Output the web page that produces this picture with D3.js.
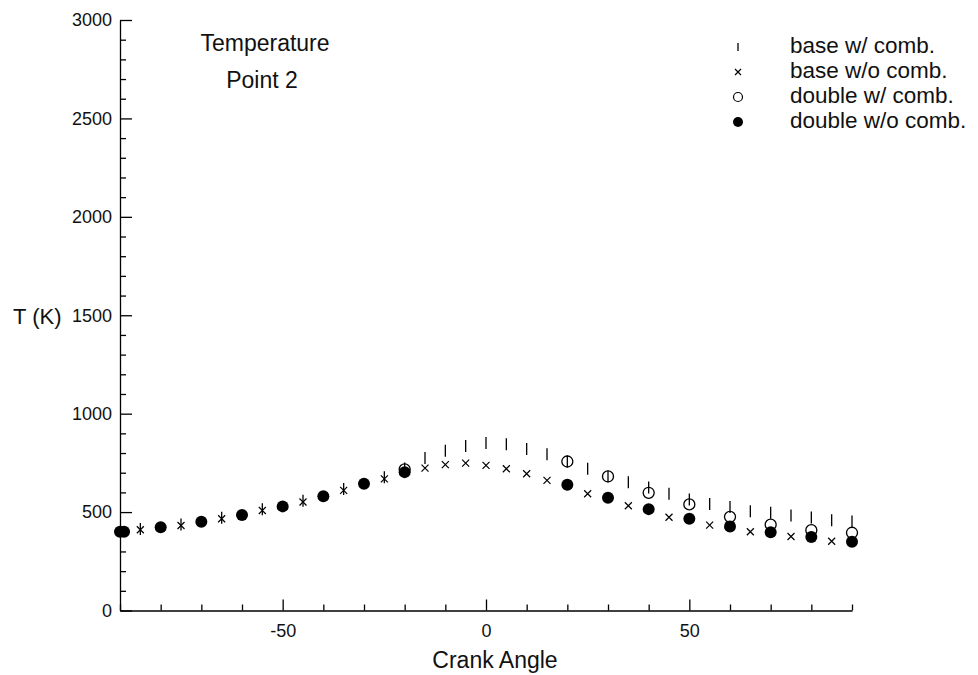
<!DOCTYPE html>
<html>
<head>
<meta charset="utf-8">
<script src="https://cdn.jsdelivr.net/npm/d3@7"></script>
<style>
  body { margin: 0; background: #fff; }
  text { font-family: "Liberation Sans", Arial, sans-serif; fill: #111; }
</style>
</head>
<body>
<div id="chart"></div>
<script>
// data (crank angle in deg, T in K)
var baseWithAngle = [-85, -75, -65, -55, -45, -35, -25, -20, -15, -10, -5, 0, 5, 10, 15, 20, 25, 30, 35, 40, 45, 50, 55, 60, 65, 70, 75, 80, 85, 90];
var baseWithT = [414, 437, 471, 514, 558, 617, 677, 722, 775, 811, 836, 851, 844, 821, 794, 757, 720, 681, 651, 625, 593, 564, 541, 526, 504, 496, 483, 473, 459, 452];

var baseWithoutAngle = [-85, -75, -65, -55, -45, -35, -25, -15, -10, -5, 0, 5, 10, 15, 25, 35, 45, 55, 65, 75, 85];
var baseWithoutT = [410, 432, 466, 508, 551, 610, 669, 723, 741, 749, 737, 720, 695, 661, 593, 532, 474, 434, 400, 376, 352];

var doubleWithAngle = [-20, 20, 30, 40, 50, 60, 70, 80, 90];
var doubleWithT = [717, 757, 681, 598, 539, 476, 436, 408, 395];

var doubleWithoutAngle = [-90, -89, -80, -70, -60, -50, -40, -30, -20, 20, 30, 40, 50, 60, 70, 80, 90];
var doubleWithoutT = [400, 400, 423, 451, 485, 529, 581, 644, 703, 639, 573, 515, 466, 427, 397, 373, 349];

var xMajor = [-50, 0, 50];
var xMinor = [-90, -80, -70, -60, -40, -30, -20, -10, 10, 20, 30, 40, 60, 70, 80, 90];
var yMajor = [0, 500, 1000, 1500, 2000, 2500, 3000];
var yMinor = d3.range(100, 3000, 100).filter(d => d % 500 !== 0);

var legendNames = ['base w/ comb.', 'base w/o comb.', 'double w/ comb.', 'double w/o comb.'];

var svgWidth = 978;
var svgHeight = 675;

var svg = d3.select('#chart')
  .append('svg')
  .attr('width', svgWidth)
  .attr('height', svgHeight);

var x = d3.scaleLinear().domain([-90, 90]).range([120, 852]);
var y = d3.scaleLinear().domain([0, 3000]).range([610.5, 20]);

// plain hyphen, no thousands comma
var plain = d => String(d);

// y axis, ticks point inward
svg.append('g')
  .attr('transform', 'translate(120,0)')
  .call(d3.axisRight(y).tickValues(yMajor).tickSize(12).tickSizeOuter(0).tickFormat(''))
  .call(g => g.selectAll('line, path').attr('stroke', '#000').attr('stroke-width', 1.3));

svg.append('g')
  .attr('transform', 'translate(120,0)')
  .call(d3.axisRight(y).tickValues(yMinor).tickSize(6).tickFormat(''))
  .call(g => g.select('.domain').remove())
  .call(g => g.selectAll('line').attr('stroke', '#000').attr('stroke-width', 1.3));

svg.append('g')
  .attr('transform', 'translate(120,0)')
  .call(d3.axisLeft(y).tickValues(yMajor).tickSize(0).tickPadding(8).tickFormat(plain))
  .call(g => g.select('.domain').remove())
  .call(g => g.selectAll('text').attr('font-size', 18).attr('font-family', null));

// x axis, ticks point up
svg.append('g')
  .attr('transform', 'translate(0,610.5)')
  .call(d3.axisTop(x).tickValues(xMajor).tickSize(11).tickSizeOuter(0).tickFormat(''))
  .call(g => g.selectAll('line, path').attr('stroke', '#000').attr('stroke-width', 1.3));

svg.append('g')
  .attr('transform', 'translate(0,610.5)')
  .call(d3.axisTop(x).tickValues(xMinor).tickSize(6).tickFormat(''))
  .call(g => g.select('.domain').remove())
  .call(g => g.selectAll('line').attr('stroke', '#000').attr('stroke-width', 1.3));

svg.append('g')
  .attr('transform', 'translate(0,610.5)')
  .call(d3.axisBottom(x).tickValues(xMajor).tickSize(0).tickPadding(14).tickFormat(plain))
  .call(g => g.select('.domain').remove())
  .call(g => g.selectAll('text').attr('font-size', 18).attr('font-family', null));

// axis titles
svg.append('text')
  .attr('x', 495)
  .attr('y', 668)
  .attr('text-anchor', 'middle')
  .attr('font-size', 23)
  .text('Crank Angle');

svg.append('text')
  .attr('x', 13)
  .attr('y', 324)
  .attr('font-size', 22)
  .text('T (K)');

// title inside plot
svg.append('text')
  .attr('x', 265)
  .attr('y', 51)
  .attr('text-anchor', 'middle')
  .attr('font-size', 23)
  .text('Temperature');

svg.append('text')
  .attr('x', 262)
  .attr('y', 88)
  .attr('text-anchor', 'middle')
  .attr('font-size', 23)
  .text('Point 2');

// marker drawing helpers
function drawBar(g, cx, cy, h) {
  g.append('line')
    .attr('x1', cx).attr('x2', cx)
    .attr('y1', cy - h / 2).attr('y2', cy + h / 2)
    .attr('stroke', '#000').attr('stroke-width', 1.3);
}

function drawCross(g, cx, cy, s) {
  g.append('path')
    .attr('d', `M${cx - s},${cy - s}L${cx + s},${cy + s}M${cx - s},${cy + s}L${cx + s},${cy - s}`)
    .attr('stroke', '#000').attr('stroke-width', 1.2).attr('fill', 'none');
}

var marks = svg.append('g');

// base w/ comb. -> vertical bars
baseWithAngle.forEach(function(a, i) {
  drawBar(marks, x(a), y(baseWithT[i]), 12);
});

// base w/o comb. -> crosses
baseWithoutAngle.forEach(function(a, i) {
  drawCross(marks, x(a), y(baseWithoutT[i]), 3.5);
});

// double w/ comb. -> open circles
marks.selectAll('.openC')
  .data(doubleWithAngle)
  .enter()
  .append('circle')
  .attr('cx', d => x(d))
  .attr('cy', (d, i) => y(doubleWithT[i]))
  .attr('r', 5.5)
  .attr('fill', 'none')
  .attr('stroke', '#000')
  .attr('stroke-width', 1.3);

// double w/o comb. -> filled circles
marks.selectAll('.fillC')
  .data(doubleWithoutAngle)
  .enter()
  .append('circle')
  .attr('cx', d => x(d))
  .attr('cy', (d, i) => y(doubleWithoutT[i]))
  .attr('r', 6)
  .attr('fill', '#000');

// legend
var legendY = [47, 72, 97, 122];
var legend = svg.append('g');

drawBar(legend, 738, legendY[0], 8);
drawCross(legend, 738, legendY[1], 3);
legend.append('circle').attr('cx', 738).attr('cy', legendY[2]).attr('r', 4.5)
  .attr('fill', 'none').attr('stroke', '#000').attr('stroke-width', 1.2);
legend.append('circle').attr('cx', 738).attr('cy', legendY[3]).attr('r', 5)
  .attr('fill', '#000');

legend.selectAll('.legText')
  .data(legendNames)
  .enter()
  .append('text')
  .attr('x', 790)
  .attr('y', (d, i) => legendY[i] - 2)
  .attr('dy', '0.35em')
  .attr('font-size', 22.5)
  .text(d => d);
</script>
</body>
</html>
